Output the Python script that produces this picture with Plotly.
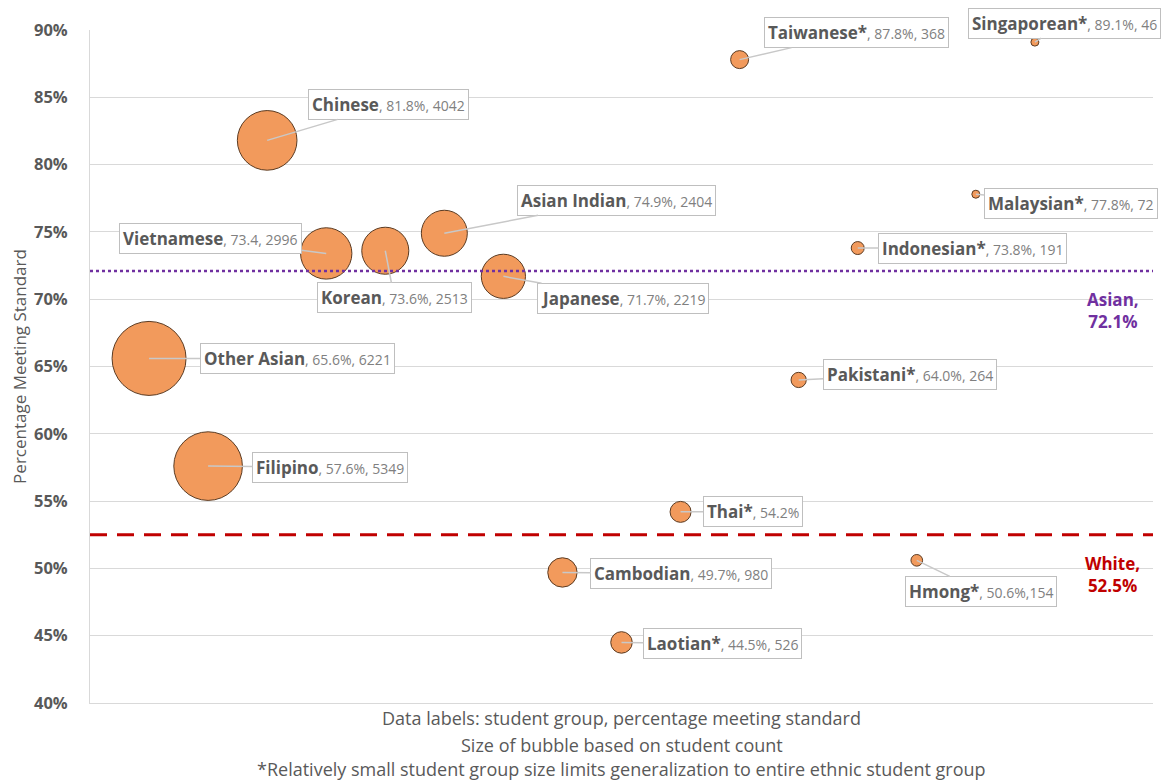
import plotly.graph_objects as go

# ---- data ----
groups = ["Other Asian", "Filipino", "Chinese", "Vietnamese", "Korean", "Asian Indian",
          "Japanese", "Cambodian", "Laotian*", "Thai*", "Taiwanese*", "Pakistani*",
          "Indonesian*", "Hmong*", "Malaysian*", "Singaporean*"]
pct_meeting = [65.6, 57.6, 81.8, 73.4, 73.6, 74.9, 71.7, 49.7, 44.5, 54.2, 87.8, 64.0,
               73.8, 50.6, 77.8, 89.1]
student_count = [6221, 5349, 4042, 2996, 2513, 2404, 2219, 980, 526, None, 368, 264,
                 191, 154, 72, 46]
value_text = ["65.6%, 6221", "57.6%, 5349", "81.8%, 4042", "73.4, 2996", "73.6%, 2513",
              "74.9%, 2404", "71.7%, 2219", "49.7%, 980", "44.5%, 526", "54.2%",
              "87.8%, 368", "64.0%, 264", "73.8%, 191", "50.6%,154", "77.8%, 72",
              "89.1%, 46"]
# Thai student count not shown in its label
thai_count_est = 500
asian_avg = 72.1
white_avg = 52.5
y_ticks = [40, 45, 50, 55, 60, 65, 70, 75, 80, 85, 90]
y_tick_text = ["40%", "45%", "50%", "55%", "60%", "65%", "70%", "75%", "80%", "85%", "90%"]
footnotes = [
    "Data labels: student group, percentage meeting standard",
    "Size of bubble based on student count",
    "*Relatively small student group size limits generalization to entire ethnic student group",
]

# ---- layout helpers (pixel offsets of label boxes from bubbles) ----
label_offsets = {
    "Other Asian": (148, 0), "Filipino": (122, 1), "Chinese": (121, -36),
    "Vietnamese": (-116, -15), "Korean": (9, 47), "Asian Indian": (172, -33),
    "Japanese": (120, 22), "Cambodian": (119, 1), "Laotian*": (101, 1),
    "Thai*": (72, 0), "Taiwanese*": (117, -27), "Pakistani*": (111, -5),
    "Indonesian*": (115, 0), "Hmong*": (64, 31), "Malaysian*": (95, 9),
    "Singaporean*": (30, -19),
}
footnote_y = [-0.0223, -0.0624, -0.098]

counts = [c if c is not None else thai_count_est for c in student_count]
xpos = list(range(1, len(groups) + 1))
max_diam = 74
sizeref = 2.0 * max(counts) / (max_diam ** 2)

fig = go.Figure()
fig.add_trace(go.Scatter(
    x=xpos, y=pct_meeting, mode="markers",
    marker=dict(size=counts, sizemode="area", sizeref=sizeref, sizemin=4, opacity=1,
                color="#F29A5C", line=dict(color="#5b3b22", width=1)),
    hoverinfo="skip", showlegend=False,
))

TEXT_FONT = "Open Sans, Noto Sans, sans-serif"
for g, x, y, v in zip(groups, xpos, pct_meeting, value_text):
    ax, ay = label_offsets[g]
    fig.add_annotation(
        x=x, y=y, xref="x", yref="y", ax=ax, ay=ay,
        text=f"<b>{g}</b><span style='font-size:14px;color:#808080'>, {v}</span>",
        showarrow=True, arrowhead=0, arrowwidth=1.5, arrowcolor="#c8c8c8", standoff=0,
        font=dict(family=TEXT_FONT, size=17, color="#595959"),
        bgcolor="white", bordercolor="#bfbfbf", borderwidth=1, borderpad=3,
    )

# average lines
fig.add_shape(type="line", xref="paper", yref="y", x0=0, x1=1, y0=asian_avg, y1=asian_avg,
              line=dict(color="#7030A0", width=2.5, dash="dot"))
fig.add_shape(type="line", xref="paper", yref="y", x0=0, x1=1, y0=white_avg, y1=white_avg,
              line=dict(color="#C00000", width=3, dash="17px,10px"))
fig.add_annotation(x=17.32, y=asian_avg, xref="x", yref="y", yshift=-40,
                   text=f"<b>Asian,<br>{asian_avg}%</b>", showarrow=False,
                   font=dict(family=TEXT_FONT, size=17, color="#7030A0"))
fig.add_annotation(x=17.32, y=white_avg, xref="x", yref="y", yshift=-40,
                   text=f"<b>White,<br>{white_avg}%</b>", showarrow=False,
                   font=dict(family=TEXT_FONT, size=17, color="#C00000"))

# footnote text (x-axis title area)
for line, fy in zip(footnotes, footnote_y):
    fig.add_annotation(
        x=0.5, y=fy, xref="paper", yref="paper", xanchor="center", yanchor="middle",
        text=line, showarrow=False,
        font=dict(family=TEXT_FONT, size=18, color="#595959"),
    )

# page body has an 8px default margin, so the figure is sized to fit the window
fig.update_layout(
    width=1162, height=774,
    margin=dict(l=82, r=17, t=22, b=79),
    plot_bgcolor="white", paper_bgcolor="white",
    xaxis=dict(range=[0, 18], showticklabels=False, showgrid=False, zeroline=False,
               showline=True, linecolor="#d9d9d9", ticks="", automargin=False),
    yaxis=dict(range=[40, 90], tickvals=y_ticks, ticktext=y_tick_text,
               showgrid=True, gridcolor="#d9d9d9", gridwidth=1, zeroline=False,
               showline=True, linecolor="#d9d9d9", ticks="", automargin=False,
               ticklabelstandoff=18,
               tickfont=dict(family=TEXT_FONT, size=16.5, color="#595959", weight="bold"),
               title=dict(text="Percentage Meeting Standard", standoff=6,
                          font=dict(family=TEXT_FONT, size=17, color="#595959"))),
)

fig.write_html("out.html")
